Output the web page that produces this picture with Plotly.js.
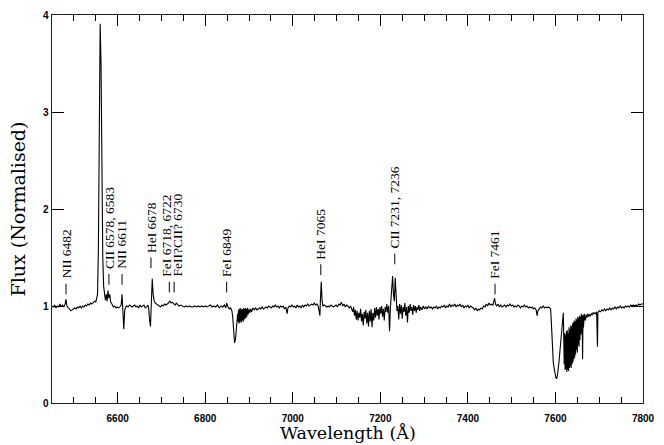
<!DOCTYPE html>
<html>
<head>
<meta charset="utf-8">
<script src="https://cdn.plot.ly/plotly-3.0.1.min.js"></script>
<style>html,body{margin:0;padding:0;background:#fff;}#chart{width:664px;height:445px;}</style>
</head>
<body>
<div id="chart"></div>
<script>
// Wavelength (Angstrom) and normalised flux
const wave = [
6450,6453,6456,6459,6462,6465,6468,6471,6474,6477,6480,6482,6484,6487,6490,6493,6496,6499,6502,6505,
6508,6511,6514,6517,6520,6523,6526,6529,6532,6535,6538,6541,6544,6547,6550,6552,6554,6556,6558,6560,
6562,6564,6566,6568,6570,6572,6574,6576,6578,6580,6582,6584,6587,6590,6593,6596,6599,6602,6605,6608,
6610,6612,6614,6616,6618,6621,6624,6627,6630,6633,6636,6639,6642,6645,6648,6651,6654,6657,6660,6663,
6666,6669,6671,6673,6675,6677,6679,6681,6683,6686,6689,6692,6695,6698,6701,6704,6707,6710,6713,6716,
6719,6722,6725,6728,6731,6734,6737,6740,6744,6748,6752,6756,6760,6764,6768,6772,6776,6780,6784,6788,
6792,6796,6800,6804,6808,6812,6816,6820,6824,6828,6832,6836,6840,6844,6847,6849,6852,6855,6858,6861,
6863,6865,6867,6869,6871,6873,6874,6875,6876,6877,6878,6879,6880,6881,6882,6883,6884,6885,6886,6887,
6888,6889,6890,6891,6892,6893,6894,6895,6896,6898,6900,6902,6904,6906,6909,6912,6915,6918,6921,6924,
6927,6930,6933,6936,6939,6942,6945,6948,6951,6954,6957,6960,6963,6966,6969,6972,6975,6978,6981,6984,
6987,6989,6992,6995,6998,7001,7004,7007,7010,7013,7016,7019,7022,7025,7028,7031,7034,7037,7040,7043,
7046,7049,7052,7055,7058,7060,7062,7063,7065,7067,7069,7072,7075,7078,7081,7084,7087,7090,7093,7096,
7099,7102,7105,7108,7111,7114,7117,7120,7123,7126,7129,7132,7135,7137,7139,7141,7143,7145,7147,7149,
7151,7153,7155,7157,7159,7161,7163,7165,7167,7169,7171,7173,7175,7177,7179,7181,7183,7185,7187,7189,
7191,7193,7195,7197,7199,7201,7203,7205,7207,7209,7211,7213,7215,7217,7219,7221,7223,7226,7228,7230,
7232,7234,7236,7238,7240,7242,7244,7246,7248,7250,7252,7254,7256,7258,7260,7262,7264,7266,7268,7270,
7272,7274,7276,7278,7280,7282,7284,7286,7288,7290,7292,7295,7298,7301,7304,7307,7310,7313,7316,7319,
7322,7325,7328,7331,7334,7337,7340,7343,7346,7349,7352,7355,7358,7361,7364,7367,7370,7373,7376,7379,
7382,7385,7388,7391,7394,7397,7400,7403,7406,7409,7412,7415,7418,7421,7424,7427,7430,7433,7436,7439,
7442,7445,7448,7451,7454,7457,7459,7461,7463,7466,7469,7472,7475,7478,7481,7484,7487,7490,7493,7496,
7499,7502,7505,7508,7511,7514,7517,7520,7523,7526,7529,7532,7535,7538,7541,7544,7547,7550,7553,7556,
7558,7560,7563,7566,7569,7572,7575,7578,7581,7584,7587,7589,7591,7593,7595,7597,7599,7601,7603,7605,
7608,7611,7614,7616,7618,7620,7621,7622,7623,7624,7625,7626,7627,7628,7629,7630,7631,7632,7633,7634,
7635,7636,7637,7638,7639,7640,7641,7642,7643,7644,7645,7646,7647,7648,7649,7650,7651,7652,7653,7654,
7655,7656,7657,7658,7659,7660,7661,7662,7663,7664,7666,7668,7670,7672,7674,7676,7678,7680,7682,7684,
7686,7688,7690,7692,7694,7696,7697,7700,7703,7706,7709,7712,7715,7718,7721,7724,7727,7730,7733,7736,
7739,7742,7745,7748,7751,7754,7757,7760,7763,7766,7769,7772,7775,7778,7781,7784,7787,7790,7793,7796,
7800
];
const flux = [
1.00,0.99,1.01,0.98,1.00,0.99,1.02,0.99,1.01,0.99,1.02,1.07,1.00,0.98,0.97,0.95,0.96,0.97,0.98,0.97,
0.99,0.98,1.00,0.98,1.00,0.99,1.01,1.00,1.02,1.01,1.03,1.02,1.04,1.05,1.04,1.07,1.12,1.60,2.80,3.91,
3.50,2.30,1.50,1.20,1.08,1.06,1.12,1.05,1.16,1.08,1.12,1.04,1.02,0.99,1.00,0.98,0.99,0.98,0.99,1.01,
1.12,0.95,0.76,0.95,0.99,1.00,0.99,1.01,1.00,0.99,1.00,1.01,0.99,1.00,0.98,1.01,0.99,1.00,1.01,0.98,
0.99,1.01,0.97,0.85,0.79,1.05,1.28,1.12,1.06,1.03,1.02,1.01,1.00,0.99,1.01,1.00,1.02,1.01,1.02,1.03,
1.05,1.03,1.04,1.02,1.01,1.03,1.01,1.00,1.01,1.00,0.99,1.00,0.99,1.00,0.99,0.99,1.00,0.99,1.00,0.99,
1.00,0.99,1.00,0.99,1.00,1.01,0.99,1.00,0.99,1.01,0.98,1.00,0.99,1.01,0.98,1.03,0.99,0.97,0.98,0.95,
0.88,0.75,0.62,0.65,0.75,0.82,0.92,0.84,0.96,0.82,0.97,0.83,0.98,0.84,0.96,0.83,0.97,0.85,0.97,0.84,
0.98,0.86,0.97,0.87,0.98,0.88,0.97,0.89,0.98,0.91,0.97,0.93,0.97,0.94,0.98,0.96,0.98,0.96,0.97,0.98,
0.97,0.99,0.97,0.98,0.99,0.98,1.00,0.99,0.98,1.00,0.99,1.01,0.99,1.00,0.98,1.00,0.99,1.00,0.97,0.99,
0.92,0.98,1.00,0.99,1.01,0.99,1.00,0.98,1.01,0.99,1.00,0.98,1.01,0.99,1.01,1.00,1.02,1.00,1.01,1.02,
1.01,1.03,1.01,1.02,1.00,0.96,0.90,1.05,1.25,1.05,1.00,1.01,1.00,0.99,1.00,0.99,1.01,1.00,0.99,1.00,
1.01,0.99,1.02,1.01,1.04,1.00,1.02,0.99,1.01,1.00,0.98,1.00,0.97,0.94,0.99,0.90,0.96,0.86,0.95,0.85,
0.93,0.88,0.97,0.84,0.92,0.80,0.94,0.87,0.96,0.82,0.93,0.79,0.95,0.84,0.97,0.78,0.93,0.85,0.98,0.88,
0.99,0.90,0.97,0.86,0.99,0.92,1.00,0.89,0.97,0.85,0.99,0.94,1.02,0.93,1.00,0.74,0.98,1.15,1.31,1.12,
1.05,1.29,1.10,0.95,1.00,0.86,1.02,0.92,1.01,0.87,0.99,0.94,1.03,0.90,0.99,0.83,1.00,0.93,1.02,0.95,
0.99,0.91,1.01,0.95,1.00,0.93,0.99,0.96,1.01,0.95,0.99,0.96,1.00,0.97,0.99,0.97,1.00,0.98,0.99,0.97,
0.99,0.98,1.00,0.97,0.99,0.98,1.00,0.99,1.01,0.98,1.00,0.99,1.02,0.99,1.01,1.00,1.02,0.99,1.01,1.00,
1.02,0.99,1.01,0.98,1.00,0.99,1.01,0.98,1.00,0.99,0.98,0.96,0.98,0.95,0.97,0.96,0.98,0.97,1.00,0.99,
1.02,1.00,1.03,1.01,1.02,1.01,1.04,1.08,1.02,1.00,1.02,0.99,1.01,0.99,1.00,1.01,0.99,1.01,1.00,1.02,
1.00,1.01,0.99,1.00,0.99,1.01,1.00,0.98,1.00,0.99,1.01,0.99,1.00,0.98,0.99,0.98,0.99,0.97,0.98,0.96,
0.90,0.95,0.97,0.99,0.98,1.00,0.98,0.99,0.98,0.99,0.98,0.97,0.80,0.48,0.42,0.36,0.30,0.26,0.25,0.30,
0.42,0.58,0.75,0.88,0.93,0.40,0.72,0.34,0.70,0.35,0.74,0.32,0.75,0.34,0.72,0.33,0.78,0.36,0.76,0.38,
0.80,0.36,0.79,0.40,0.82,0.42,0.83,0.45,0.85,0.47,0.84,0.50,0.87,0.55,0.86,0.52,0.89,0.60,0.88,0.58,
0.90,0.65,0.89,0.70,0.92,0.72,0.90,0.45,0.91,0.78,0.92,0.85,0.91,0.88,0.92,0.89,0.91,0.90,0.92,0.91,
0.93,0.92,0.93,0.92,0.94,0.58,0.93,0.95,0.94,0.96,0.95,0.97,0.95,0.97,0.96,0.98,0.96,0.98,0.97,0.99,
0.97,0.99,0.98,1.00,0.98,0.99,0.98,1.00,0.99,1.00,0.99,1.01,1.00,1.01,1.00,1.01,1.00,1.02,1.01,1.02,
1.02
];

// Line identifications
const lineLabels = ["NII 6482","CII 6578, 6583","NII 6611","HeI 6678","FeI 6718, 6722","FeII?CII? 6730","FeI 6849","HeI 7065","CII 7231, 7236","FeI 7461"];
const lineWaves  = [6482, 6580, 6610, 6676, 6718, 6729, 6849, 7064, 7233, 7462];
const lineBase   = [1.12, 1.22, 1.22, 1.39, 1.14, 1.14, 1.14, 1.32, 1.43, 1.12];

const xTicks = [6600, 6800, 7000, 7200, 7400, 7600, 7800];
const yTicks = [0, 1, 2, 3, 4];
const xTitle = 'Wavelength (Å)';
const yTitle = 'Flux (Normalised)';

const DASH = 0.11, GAP = 0.04;
// small horizontal nudges (px) so the two crowded labels near 6720 A don't overlap
const labelShift = {'FeI 6718, 6722': -2.5, 'FeII?CII? 6730': 3};

const annotations = lineLabels.map((t, i) => ({
  x: lineWaves[i], y: lineBase[i] + DASH + GAP, xref: 'x', yref: 'y',
  text: t, textangle: -90, showarrow: false,
  xanchor: 'center', yanchor: 'bottom', borderpad: 0,
  xshift: labelShift[t] || 0,
  font: {family: 'Liberation Serif, serif', size: 13.5, color: '#000'}
}));
// x-axis title placed just below the tick labels
annotations.push({
  x: 0.5, y: 0, xref: 'paper', yref: 'paper', yshift: -30,
  xanchor: 'center', yanchor: 'middle', showarrow: false, text: xTitle,
  borderpad: 0,
  font: {family: 'DejaVu Serif, serif', size: 17.5, color: '#000'}
});

const shapes = lineWaves.map((w, i) => ({
  type: 'line', xref: 'x', yref: 'y',
  x0: w, x1: w, y0: lineBase[i], y1: lineBase[i] + DASH,
  line: {color: '#000', width: 1}
}));

const trace = {
  x: wave, y: flux, type: 'scatter', mode: 'lines',
  line: {color: '#000', width: 1.1}, hoverinfo: 'skip'
};

const layout = {
  width: 664, height: 445,
  margin: {l: 52, r: 21, t: 15, b: 42, pad: 0},
  paper_bgcolor: '#fff', plot_bgcolor: '#fff',
  showlegend: false,
  xaxis: {
    range: [6450, 7800], tickvals: xTicks, ticktext: xTicks.map(String),
    ticks: 'inside', ticklen: 11, tickwidth: 1, tickcolor: '#000',
    minor: {dtick: 50, tick0: 6450, ticks: 'inside', ticklen: 6, tickwidth: 1, tickcolor: '#000'},
    showline: true, linecolor: '#222', linewidth: 1.4, mirror: 'ticks',
    showgrid: false, zeroline: false, ticklabelstandoff: 6,
    tickfont: {family: 'Liberation Sans, Arial, sans-serif', size: 10, color: '#000', weight: 'bold'}
  },
  yaxis: {
    range: [0, 4], tickvals: yTicks, ticktext: yTicks.map(String),
    ticks: 'inside', ticklen: 12, tickwidth: 1, tickcolor: '#000',
    showline: true, linecolor: '#222', linewidth: 1.4, mirror: 'ticks',
    showgrid: false, zeroline: false,
    tickfont: {family: 'Liberation Sans, Arial, sans-serif', size: 10, color: '#000', weight: 'bold'},
    title: {text: yTitle, font: {family: 'DejaVu Serif, serif', size: 19, color: '#000'}, standoff: 12}
  },
  annotations: annotations,
  shapes: shapes
};

Plotly.newPlot('chart', [trace], layout, {staticPlot: true, displayModeBar: false});
</script>
</body>
</html>
